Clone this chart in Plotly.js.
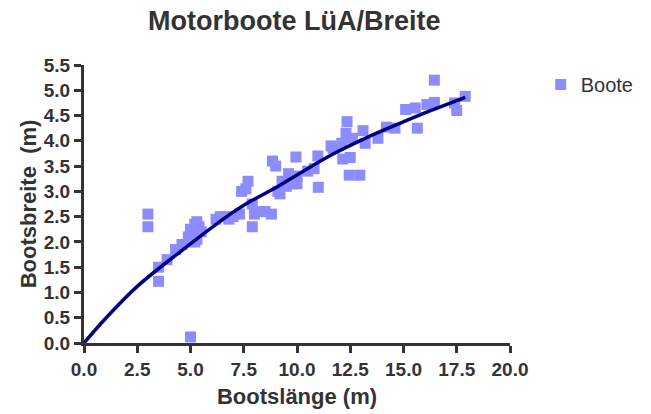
<!DOCTYPE html>
<html>
<head>
<meta charset="utf-8">
<script src="https://cdn.plot.ly/plotly-3.0.1.min.js"></script>
<style>html,body{margin:0;padding:0;background:#fff;}#chart{width:651px;height:414px;}</style>
</head>
<body>
<div id="chart"></div>
<script>
// Boat length (m) and boat width (m)
const bootLaenge = [3.0, 3.0, 3.5, 3.5, 3.9, 4.3, 4.6, 4.9, 5.0, 5.1, 5.2, 5.3, 5.4, 5.3, 5.5, 5.2, 5.0, 5.0,
  6.2, 6.4, 6.6, 6.8, 7.0, 7.3, 7.4, 7.7, 7.6, 7.9, 7.9, 8.0, 8.2, 8.5, 8.8,
  8.85, 9.0, 9.1, 9.2, 9.3, 9.5, 9.6, 9.8, 9.95, 10.0, 10.0, 10.5, 10.8, 10.98, 11.0,
  11.6, 11.7, 12.1, 12.15, 12.3, 12.35, 12.5, 12.45, 12.95, 12.6, 13.1, 13.2, 13.8,
  14.2, 14.6, 15.1, 15.55, 15.65, 16.1, 16.45, 16.45, 17.4, 17.5, 17.9];
const bootBreite = [2.55, 2.3, 1.5, 1.22, 1.65, 1.85, 1.95, 2.1, 2.25, 2.15, 2.35, 2.4, 2.3, 2.05, 2.2, 2.0, 2.0, 0.12,
  2.45, 2.5, 2.5, 2.45, 2.5, 2.55, 3.0, 3.2, 3.05, 2.75, 2.3, 2.55, 2.6, 2.6, 2.55,
  3.6, 3.5, 3.0, 2.95, 3.2, 3.1, 3.35, 3.15, 3.68, 3.3, 3.15, 3.4, 3.45, 3.7, 3.08,
  3.9, 3.85, 3.95, 3.64, 4.15, 4.38, 3.67, 3.32, 3.32, 4.05, 4.2, 3.95, 4.05,
  4.27, 4.25, 4.62, 4.65, 4.25, 4.72, 4.76, 5.2, 4.75, 4.6, 4.88];
// Fitted curve, points
const fitX = [0, 1.0, 2.5, 4.5, 6.8, 7.6, 9.2, 10.1, 11.65, 13.2, 14.8, 16.3, 17.9];
const fitY = [0, 0.48, 1.12, 1.80, 2.53, 2.75, 3.12, 3.35, 3.73, 4.05, 4.34, 4.60, 4.86];
const xTicks = [0, 2.5, 5, 7.5, 10, 12.5, 15, 17.5, 20];
const yTicks = [0, 0.5, 1, 1.5, 2, 2.5, 3, 3.5, 4, 4.5, 5, 5.5];

const font = 'Arial, "Liberation Sans", Helvetica, sans-serif';
const traces = [
  {x: bootLaenge, y: bootBreite, mode: 'markers', type: 'scatter', name: 'Boote',
   marker: {symbol: 'square', size: 11, color: '#8c8cff', line: {width: 0}}, cliponaxis: false},
  {x: fitX, y: fitY, mode: 'lines', type: 'scatter', showlegend: false,
   line: {color: '#000080', width: 3.5, shape: 'spline'}, hoverinfo: 'skip'}
];
const axisCommon = {
  showline: true, linewidth: 3, linecolor: '#333', mirror: false,
  ticks: 'outside', ticklen: 7, tickwidth: 3, tickcolor: '#333',
  showgrid: false, zeroline: false, tickformat: '.1f',
  tickfont: {family: font, size: 19, color: '#333', weight: 'bold'}
};
const layout = {
  width: 651, height: 414,
  margin: {l: 84, r: 139, t: 65, b: 71},
  paper_bgcolor: '#fff', plot_bgcolor: '#fff',
  title: {text: '<b>Motorboote LüA/Breite</b>', x: 0.452, xref: 'container', xanchor: 'center',
          y: 0.951, yref: 'container', yanchor: 'middle',
          font: {family: font, size: 27, color: '#333'}},
  xaxis: Object.assign({}, axisCommon, {range: [0, 20], tickvals: xTicks,
    title: {text: '<b>Bootslänge (m)</b>', font: {family: font, size: 22, color: '#333'}, standoff: 10}}),
  yaxis: Object.assign({}, axisCommon, {range: [0, 5.5], tickvals: yTicks,
    title: {text: '<b>Bootsbreite \u00a0(m)</b>', font: {family: font, size: 22, color: '#333'}, standoff: 2}}),
  legend: {x: 1.072, y: 1.0, xanchor: 'left', yanchor: 'top', bgcolor: 'rgba(0,0,0,0)',
           font: {family: font, size: 20, color: '#333'}},
  showlegend: true
};
Plotly.newPlot('chart', traces, layout, {displayModeBar: false, staticPlot: true});
</script>
</body>
</html>
